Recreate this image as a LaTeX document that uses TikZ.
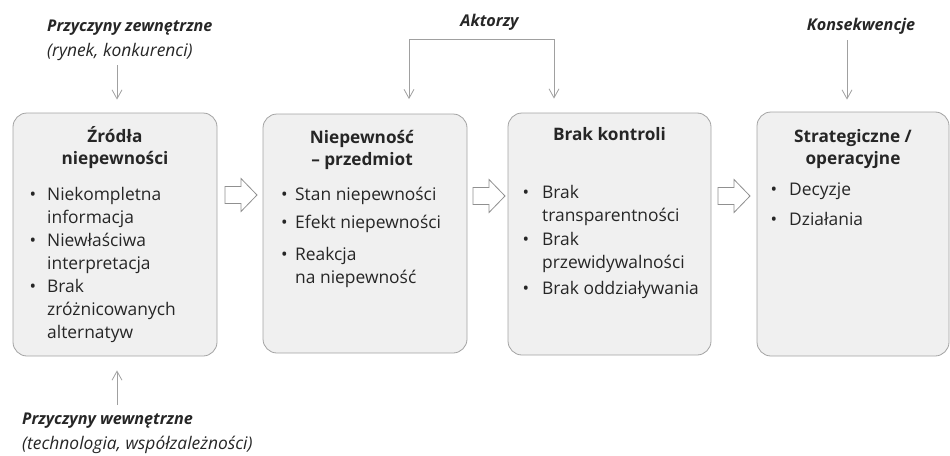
\documentclass[tikz,border=0pt]{standalone}
\usepackage{fontspec}
\setmainfont{Open Sans}
\usetikzlibrary{arrows.meta,positioning}

\definecolor{boxfill}{HTML}{F0F0F0}
\definecolor{boxline}{HTML}{A3A3A3}
\definecolor{txt}{HTML}{262626}
\definecolor{arr}{HTML}{A0A0A0}

\newcommand{\pt}[1]{\makebox[#1][l]{\textbullet}}

\begin{document}
\begin{tikzpicture}[
                        x=1pt, y=-1pt,
                        text=txt,
                        font=\fontsize{17.4}{23}\selectfont,
                        block/.style={rectangle, rounded corners=14pt, draw=boxline, fill=boxfill, line width=0.8pt, minimum width=204pt, inner sep=0pt},
                        heading/.style={anchor=base, inner sep=0pt, font=\fontsize{17.2}{21.5}\selectfont\bfseries},
                        items/.style={anchor=base west, inner sep=0pt},
                        cause/.style={anchor=base west, inner sep=0pt, font=\fontsize{16.2}{23}\selectfont\bfseries\itshape},
                        note/.style={anchor=base west, inner sep=0pt, font=\fontsize{17.4}{23}\selectfont\itshape},
                        link/.style={draw=arr, line width=0.8pt, -{Straight Barb[length=9pt,width=10pt]}},
                        blockarrow/.pic={\draw [draw=arr!90!black, fill=white, line width=0.8pt]
                            (0,-8.5) -- (16,-8.5) -- (16,-16.5) -- (32,0) -- (16,16.5) -- (16,8.5) -- (0,8.5) -- cycle;}
                    ]
                    \useasboundingbox (0,0) rectangle (950,455);

                    % Blocks
                    \node [block, minimum height=243pt] (src) at (115,234.5) {};
                    \node [block, minimum height=239pt] (subj) at (365,233.5) {};
                    \node [block, minimum width=203pt, minimum height=242pt] (ctrl) at (609.5,234) {};
                    \node [block, minimum width=192pt, minimum height=244pt] (cons) at (853,234) {};

                    % Titles
                    \node [heading] (srctitle) at (115,142.5) {\begin{tabular}[t]{@{}c@{}}Źródła\\niepewności\end{tabular}};
                    \node [heading] (subjtitle) at (362,143.5) {\begin{tabular}[t]{@{}c@{}}Niepewność\\– przedmiot\end{tabular}};
                    \node [heading] (ctrltitle) at (609.5,140.5) {Brak kontroli};
                    \node [heading] (constitle) at (853,142.5) {\begin{tabular}[t]{@{}c@{}}Strategiczne /\\operacyjne\end{tabular}};

                    % Lists
                    \node [items] (srclist) at (29.5,200.5) {\begin{tabular}[t]{@{}l@{}l@{}}
                        \pt{17.5pt} & Niekompletna\\ & informacja\\
                        \pt{17.5pt} & Niewłaściwa\\ & interpretacja\\
                        \pt{17.5pt} & Brak\\ & zróżnicowanych\\ & alternatyw
                    \end{tabular}};
                    \node [items] (subjlist) at (281,200.5) {\begin{tabular}[t]{@{}l@{}l@{}}
                        \pt{14pt} & Stan niepewności\\[5pt]
                        \pt{14pt} & Efekt niepewności\\[9pt]
                        \pt{14pt} & Reakcja\\ & na niepewność
                    \end{tabular}};
                    \node [items] (ctrllist) at (522.5,198.5) {\begin{tabular}[t]{@{}l@{}l@{}}
                        \pt{19.5pt} & Brak\\ & transparentności\\[1pt]
                        \pt{19.5pt} & Brak\\ & przewidywalności\\[3pt]
                        \pt{19.5pt} & Brak oddziaływania
                    \end{tabular}};
                    \node [items] (conslist) at (770.5,195.5) {\begin{tabular}[t]{@{}l@{}l@{}}
                        \pt{18.5pt} & Decyzje\\[7pt]
                        \pt{18.5pt} & Działania
                    \end{tabular}};

                    % Labels
                    \node [cause] (extcause) at (47,31.5) {Przyczyny zewnętrzne};
                    \node [note] (extnote) at (47,56) {(rynek, konkurenci)};
                    \node [cause] (intcause) at (22,424.5) {Przyczyny wewnętrzne};
                    \node [note] (intnote) at (22,449.5) {(technologia, współzależności)};
                    \node [cause, anchor=base] (actors) at (489.5,27) {Aktorzy};
                    \node [cause, anchor=base] (effects) at (861,30) {Konsekwencje};

                    % Block arrows
                    \pic (step1) at (225,195) {blockarrow};
                    \pic (step2) at (473,196) {blockarrow};
                    \pic (step3) at (718,196) {blockarrow};

                    % Connections
                    \coordinate (extin) at (117,65);
                    \coordinate (intin) at (117,405);
                    \coordinate (actL) at (409,39);
                    \coordinate (actR) at (554,39);
                    \coordinate (effin) at (847,40);
                    \draw [link] (extin) -- ([yshift=13pt]extin |- src.north);
                    \draw [link] (intin) -- ([yshift=-14pt]intin |- src.south);
                    \draw [draw=arr, line width=0.8pt] (actL) -- (actR);
                    \draw [link] (actL) -- ([yshift=14.5pt]actL |- subj.north);
                    \draw [link] (actR) -- ([yshift=14pt]actR |- ctrl.north);
                    \draw [link] (effin) -- ([yshift=12pt]effin |- cons.north);
                \end{tikzpicture}
\end{document}
